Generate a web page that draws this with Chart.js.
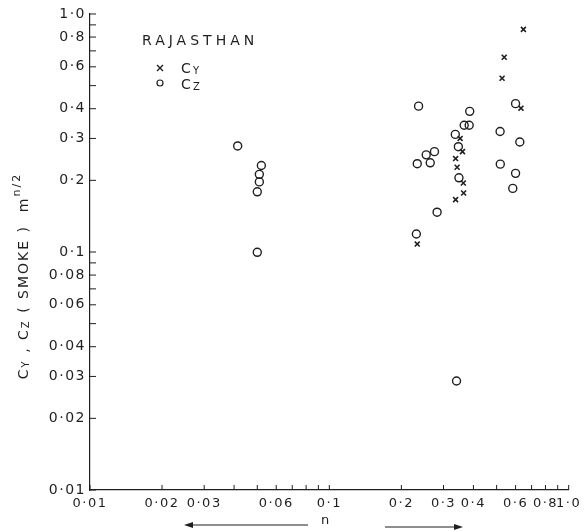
<!DOCTYPE html>
<html>
<head>
<meta charset="utf-8">
<script src="https://cdn.jsdelivr.net/npm/chart.js@4/dist/chart.umd.min.js"></script>
<style>
  html, body { margin: 0; padding: 0; background: #fff; }
  #wrap { width: 585px; height: 532px; }
</style>
</head>
<body>
<div id="wrap"><canvas id="chart" width="585" height="532"></canvas></div>
<script>
// ===== Rajasthan Cy / Cz (smoke) vs n, log-log =====

// Cy values (crosses)
const cyN = [0.647, 0.538, 0.527, 0.632, 0.352, 0.360, 0.337, 0.342, 0.363, 0.364, 0.337, 0.233];
const cyC = [0.862, 0.658, 0.537, 0.402, 0.300, 0.264, 0.247, 0.227, 0.195, 0.177, 0.166, 0.108];

// Cz values (circles)
const czN = [0.0414, 0.052, 0.051, 0.051, 0.050, 0.050, 0.236, 0.386, 0.366, 0.384, 0.336, 0.346, 0.275,
             0.254, 0.233, 0.264, 0.348, 0.282, 0.231, 0.517, 0.518, 0.600, 0.625, 0.600, 0.584, 0.340];
const czC = [0.279, 0.231, 0.212, 0.197, 0.179, 0.0997, 0.410, 0.390, 0.341, 0.341, 0.312, 0.277, 0.264,
             0.256, 0.235, 0.237, 0.205, 0.147, 0.119, 0.321, 0.234, 0.420, 0.290, 0.214, 0.185, 0.0287];

// tick marks and labels
const tickVals = [0.01, 0.02, 0.03, 0.04, 0.05, 0.06, 0.07, 0.08, 0.09,
                  0.1, 0.2, 0.3, 0.4, 0.5, 0.6, 0.7, 0.8, 0.9, 1.0];
const xLabelVals = [0.01, 0.02, 0.03, 0.06, 0.1, 0.2, 0.3, 0.4, 0.6, 0.8, 1.0];
const xLabels = ["0·01", "0·02", "0·03", "0·06", "0·1", "0·2", "0·3", "0·4", "0·6", "0·8", "1·0"];
const yLabelVals = [0.01, 0.02, 0.03, 0.04, 0.06, 0.08, 0.1, 0.2, 0.3, 0.4, 0.6, 0.8, 1.0];
const yLabels = ["0·01", "0·02", "0·03", "0·04", "0·06", "0·08", "0·1", "0·2", "0·3", "0·4", "0·6", "0·8", "1·0"];

const INK = "#1f1f1f";
const FONT = "DejaVu Sans";

function labelFor(v, vals, labels) {
  for (let i = 0; i < vals.length; i++) {
    if (Math.abs(vals[i] - v) < 1e-9) return labels[i];
  }
  return "";
}

function toPoints(xs, ys) {
  return xs.map((x, i) => ({ x: x, y: ys[i] }));
}

// wide lettering for the tick labels
const spacing = {
  id: "spacing",
  beforeDraw(chart) { chart.ctx.letterSpacing = "1.5px"; }
};

// inward tick marks, legend, axis titles
const decor = {
  id: "decor",
  afterDraw(chart) {
    const ctx = chart.ctx;
    const xs = chart.scales.x, ys = chart.scales.y;
    const area = chart.chartArea;
    ctx.save();
    ctx.strokeStyle = INK;
    ctx.lineWidth = 1;
    tickVals.forEach(v => {
      const px = xs.getPixelForValue(v);
      ctx.beginPath();
      ctx.moveTo(px, area.bottom);
      ctx.lineTo(px, area.bottom - 5);
      ctx.stroke();
      const py = ys.getPixelForValue(v);
      ctx.beginPath();
      ctx.moveTo(area.left, py);
      ctx.lineTo(area.left + 6, py);
      ctx.stroke();
    });

    ctx.fillStyle = INK;
    ctx.textBaseline = "alphabetic";
    ctx.textAlign = "left";

    // title + legend
    ctx.font = "14px " + FONT;
    ctx.letterSpacing = "4px";
    ctx.fillText("RAJASTHAN", 142, 45);
    ctx.letterSpacing = "1px";

    ctx.lineWidth = 1.4;
    ctx.beginPath();
    ctx.moveTo(157, 65); ctx.lineTo(163, 71);
    ctx.moveTo(163, 65); ctx.lineTo(157, 71);
    ctx.stroke();
    ctx.lineWidth = 1.2;
    ctx.beginPath();
    ctx.arc(160, 83, 3, 0, Math.PI * 2);
    ctx.stroke();

    ctx.font = "14px " + FONT;
    ctx.fillText("C", 181, 73);
    ctx.fillText("C", 181, 89);
    ctx.font = "10px " + FONT;
    ctx.fillText("Y", 193, 74);
    ctx.fillText("Z", 193, 90);

    // y axis title, rotated
    const parts = [
      ["C", 14, 0], ["Y", 10, 1], [" , C", 14, 0], ["Z", 10, 1],
      [" ( SMOKE )  m", 14, 0], ["n/2", 11, -8]
    ];
    ctx.letterSpacing = "2px";
    let total = 0;
    parts.forEach(p => { ctx.font = p[1] + "px " + FONT; total += ctx.measureText(p[0]).width; });
    ctx.translate(28, 276);
    ctx.rotate(-Math.PI / 2);
    let cx = -total / 2;
    parts.forEach(p => {
      ctx.font = p[1] + "px " + FONT;
      ctx.fillText(p[0], cx, p[2]);
      cx += ctx.measureText(p[0]).width;
    });
    ctx.restore();

    // x axis title with arrows
    ctx.save();
    ctx.letterSpacing = "0px";
    ctx.strokeStyle = INK;
    ctx.fillStyle = INK;
    ctx.lineWidth = 1.2;
    ctx.font = "13px " + FONT;
    ctx.textAlign = "center";
    ctx.fillText("n", 325, 524);
    ctx.beginPath();
    ctx.moveTo(308, 525); ctx.lineTo(188, 525);
    ctx.moveTo(385, 527); ctx.lineTo(459, 527);
    ctx.stroke();
    ctx.beginPath();
    ctx.moveTo(184, 525); ctx.lineTo(193, 522); ctx.lineTo(193, 528); ctx.closePath();
    ctx.moveTo(463, 527); ctx.lineTo(454, 524); ctx.lineTo(454, 530); ctx.closePath();
    ctx.fill();
    ctx.restore();
  }
};

const ctx = document.getElementById("chart").getContext("2d");
new Chart(ctx, {
  type: "scatter",
  data: {
    datasets: [
      {
        label: "Cy",
        data: toPoints(cyN, cyC),
        pointStyle: "crossRot",
        pointRadius: 3.5,
        borderColor: INK,
        borderWidth: 1.6,
        backgroundColor: INK
      },
      {
        label: "Cz",
        data: toPoints(czN, czC),
        pointStyle: "circle",
        pointRadius: 4,
        borderColor: INK,
        borderWidth: 1.4,
        backgroundColor: "rgba(0,0,0,0)"
      }
    ]
  },
  options: {
    responsive: false,
    animation: false,
    events: [],
    layout: { padding: { left: 0, right: 15, top: 14, bottom: 0 } },
    plugins: {
      legend: { display: false },
      tooltip: { enabled: false }
    },
    scales: {
      x: {
        type: "logarithmic",
        min: 0.01,
        max: 1.0,
        grid: { display: false, drawTicks: false },
        border: { display: true, color: INK, width: 1.2 },
        afterBuildTicks: s => { s.ticks = tickVals.map(v => ({ value: v })); },
        afterFit: s => { s.height = 42; },
        ticks: {
          autoSkip: false,
          maxRotation: 0,
          padding: 6,
          color: INK,
          font: { family: FONT, size: 13 },
          callback: v => labelFor(v, xLabelVals, xLabels)
        }
      },
      y: {
        type: "logarithmic",
        min: 0.01,
        max: 1.0,
        grid: { display: false, drawTicks: false },
        border: { display: true, color: INK, width: 1.2 },
        afterBuildTicks: s => { s.ticks = tickVals.map(v => ({ value: v })); },
        afterFit: s => { s.width = 90; },
        ticks: {
          autoSkip: false,
          padding: 4,
          color: INK,
          font: { family: FONT, size: 14 },
          callback: v => labelFor(v, yLabelVals, yLabels)
        }
      }
    }
  },
  plugins: [spacing, decor]
});
</script>
</body>
</html>
